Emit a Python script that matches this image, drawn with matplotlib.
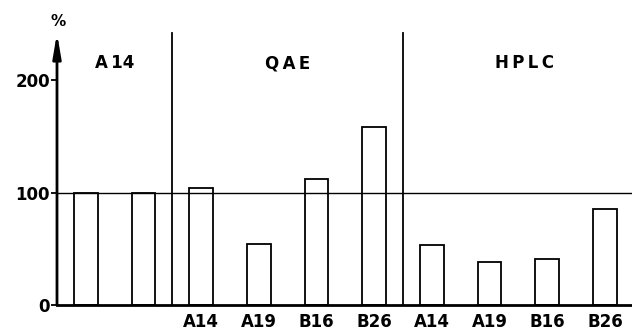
import numpy as np
import matplotlib.pyplot as plt

# values (% of reference)
panel_names = ["A14", "QAE", "HPLC"]
ref_values = [100, 100]
clone_labels = ["A14", "A19", "B16", "B26"]
qae_values = [104, 54, 112, 158]
hplc_values = [53, 38, 41, 85]
yticks = [0, 100, 200]

plt.rcParams['font.family'] = 'DejaVu Sans'
plt.rcParams['font.weight'] = 'bold'

fig = plt.figure(figsize=(6.32, 3.31), dpi=100)
ax = fig.add_axes([57 / 632, 26 / 331, 1 - 57 / 632, 272 / 331])

values = ref_values + qae_values + hplc_values
xpos = np.arange(len(values)) + 0.5
lw = 1.3

ax.bar(xpos, values, width=0.41, facecolor='white', edgecolor='black',
       linewidth=lw, zorder=2)
ax.axhline(100, color='black', linewidth=1.0, zorder=3)

# panel dividers
for xd in [2, 6]:
    ax.plot([xd, xd], [0, 242], color='black', linewidth=lw, zorder=3, clip_on=False)

ax.set_xlim(0, 9.97)
ax.set_ylim(0, 242)

# panel titles (spaced lettering like the original)
titles = ["A\u200914", "Q\u2009A\u2009E", "H\u2009P\u2009L\u2009C"]
for name, xc in zip(titles, [1.0, 4.0, 8.1]):
    ax.text(xc, 215, name, ha='center', va='center',
            fontsize=12, fontweight='bold')

# x labels only under QAE and HPLC bars
ax.set_xticks(xpos[2:])
ax.set_xticklabels(clone_labels * 2, fontsize=12, fontweight='bold')
ax.tick_params(axis='x', length=0, pad=6)

ax.set_yticks(yticks)
ax.set_yticklabels([str(t) for t in yticks], fontsize=12, fontweight='bold')
ax.tick_params(axis='y', length=4, width=1.3, pad=1)

for s in ['top', 'right', 'left']:
    ax.spines[s].set_visible(False)
ax.spines['bottom'].set_linewidth(2)

# y axis with arrow head
ax.annotate("", xy=(0, 242), xytext=(0, 0),
            arrowprops=dict(arrowstyle='-|>,head_length=1.3,head_width=0.22',
                            mutation_scale=11, color='black', lw=2,
                            shrinkA=0, shrinkB=0),
            annotation_clip=False)
ax.text(0.02, 252, "%", ha='center', va='center', fontsize=11,
        fontweight='bold', clip_on=False)

fig.savefig("out.png", dpi=100)
